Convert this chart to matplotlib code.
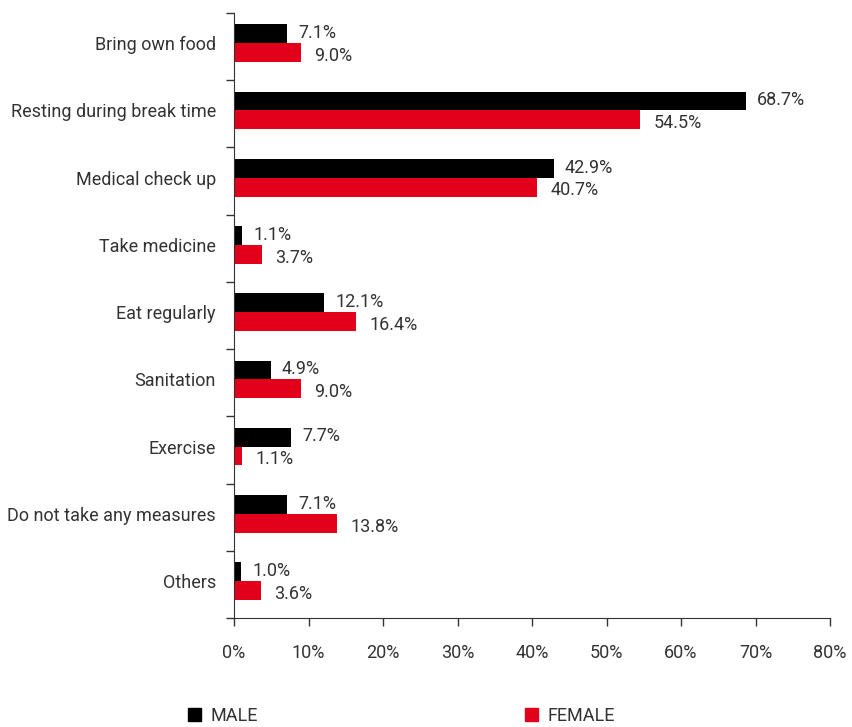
import numpy as np
import matplotlib.pyplot as plt
from matplotlib.patches import Patch

categories = ["Bring own food", "Resting during break time", "Medical check up",
              "Take medicine", "Eat regularly", "Sanitation", "Exercise",
              "Do not take any measures", "Others"]
male = [7.1, 68.7, 42.9, 1.1, 12.1, 4.9, 7.7, 7.1, 1.0]
female = [9.0, 54.5, 40.7, 3.7, 16.4, 9.0, 1.1, 13.8, 3.6]
xticks = [0, 10, 20, 30, 40, 50, 60, 70, 80]

black = "#000000"
red = "#e2001a"
txt = "#333333"
fs = 13

plt.rcParams['font.family'] = ['Roboto', 'DejaVu Sans']

fig = plt.figure(figsize=(8.52, 7.27), dpi=100)
ax = fig.add_axes([234/852, 1-618/727, (830-234)/852, (618-13)/727])

n = len(categories)
y = np.arange(n)
h = 0.28
off = -0.05
ax.barh(y + off - h/2, male, height=h, color=black)
ax.barh(y + off + h/2, female, height=h, color=red)

for i in range(n):
    ax.text(male[i] + 1.5, y[i] + off - h/2 - 0.01, f"{male[i]:.1f}%", va="center",
            ha="left", fontsize=fs, color=txt)
    ax.text(female[i] + 1.8, y[i] + off + h/2 + 0.05, f"{female[i]:.1f}%", va="center",
            ha="left", fontsize=fs, color=txt)

ax.set_xlim(0, 80)
ax.set_ylim(n - 0.5, -0.5)
ax.set_xticks(xticks)
ax.set_xticklabels([f"{v}%" for v in xticks], fontsize=fs, color=txt)
ax.set_yticks(y + off)
ax.set_yticklabels(categories, fontsize=fs, color=txt)
ax.set_yticks(np.arange(n + 1) - 0.5, minor=True)
ax.tick_params(axis="y", which="major", length=0, pad=13)
ax.tick_params(axis="y", which="minor", length=6, width=1, color="#333333")
ax.tick_params(axis="x", length=6, width=1, color="#333333", pad=13)

for s in ["top", "right"]:
    ax.spines[s].set_visible(False)
for s in ["left", "bottom"]:
    ax.spines[s].set_color("#333333")

handles = [Patch(color=black, label="MALE"), Patch(color=red, label="FEMALE")]
fig.legend(handles=handles, loc="lower left", bbox_to_anchor=(188/852, 2/727), ncol=2,
           frameon=False, fontsize=fs, handlelength=0.7, handleheight=0.75,
           handletextpad=0.55, columnspacing=14.8, labelcolor=txt,
           borderpad=0, borderaxespad=0)

fig.savefig("out.png", dpi=100)
